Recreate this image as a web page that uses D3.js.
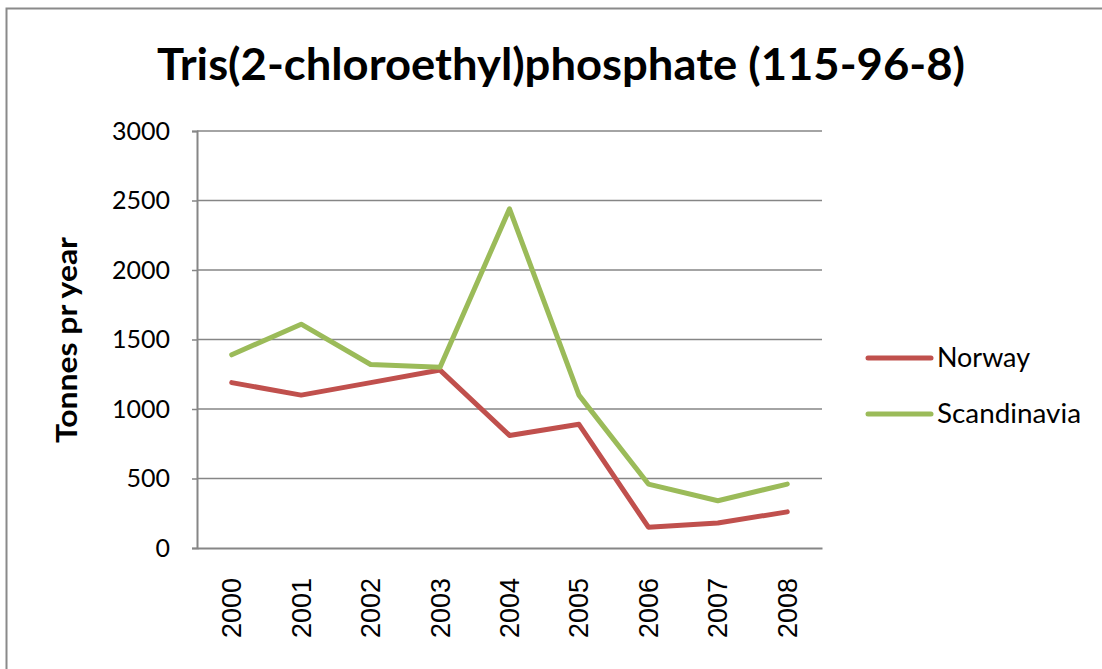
<!DOCTYPE html>
<html>
<head>
<meta charset="utf-8">
<script src="https://cdn.jsdelivr.net/npm/d3@7"></script>
<style>
  body { margin: 0; background: #fff; }
  svg { display: block; }
</style>
</head>
<body>
<div id="chart"></div>
<script>
var years = ["2000", "2001", "2002", "2003", "2004", "2005", "2006", "2007", "2008"];
var norway = [1190, 1100, 1190, 1280, 810, 890, 150, 180, 260];
var scandinavia = [1390, 1610, 1320, 1300, 2440, 1100, 460, 340, 460];
var seriesNames = ["Norway", "Scandinavia"];
var seriesColors = ["#C0504D", "#9BBB59"];
var yTicks = [0, 500, 1000, 1500, 2000, 2500, 3000];

var svgWidth = 1102;
var svgHeight = 669;

// plot area
var margin = { top: 131, left: 197, right: 280, bottom: 121 };
var width = svgWidth - margin.left - margin.right;
var height = svgHeight - margin.top - margin.bottom;

var svg = d3.select("#chart").append("svg")
    .attr("width", svgWidth)
    .attr("height", svgHeight);

// outer chart border (only top and left visible)
svg.append("path")
    .attr("d", "M6.5,669 V8.5 H1102")
    .attr("fill", "none")
    .attr("stroke", "#8a8a8a")
    .attr("stroke-width", 2);

var font = "Lato, 'Open Sans', sans-serif";

svg.append("text")
    .attr("x", 561)
    .attr("y", 80)
    .attr("text-anchor", "middle")
    .attr("font-family", font)
    .attr("font-weight", "bold")
    .attr("font-size", 43)
    .attr("textLength", 808)
    .attr("lengthAdjust", "spacingAndGlyphs")
    .text("Tris(2-chloroethyl)phosphate  (115-96-8)");

var chartGroup = svg.append("g")
    .attr("transform", `translate(${margin.left}, ${margin.top})`);

var xScale = d3.scaleBand()
    .domain(years)
    .range([0, width]);

var yScale = d3.scaleLinear()
    .domain([0, 3000])
    .range([height, 0]);

// gridlines
chartGroup.append("g")
    .selectAll("line")
    .data(yTicks.slice(1))
    .enter()
    .append("line")
    .attr("x1", 0)
    .attr("x2", width)
    .attr("y1", d => yScale(d))
    .attr("y2", d => yScale(d))
    .attr("stroke", "#868686")
    .attr("stroke-width", 1.5);

// y axis
var yAxis = chartGroup.append("g")
    .call(d3.axisLeft(yScale).tickValues(yTicks).tickFormat(d3.format("d")).tickSize(5).tickPadding(22));
yAxis.select(".domain").attr("stroke", "#868686").attr("stroke-width", 2);
yAxis.selectAll(".tick line").attr("stroke", "#868686").attr("stroke-width", 1.5);
yAxis.selectAll("text")
    .attr("font-family", font)
    .attr("font-size", 25)
    .attr("fill", "#000");

// x axis
var xAxis = chartGroup.append("g")
    .attr("transform", `translate(0, ${height})`)
    .call(d3.axisBottom(xScale).tickSize(0).tickPadding(0));
xAxis.select(".domain").attr("stroke", "#868686").attr("stroke-width", 2);
xAxis.selectAll("text")
    .attr("font-family", "'Liberation Sans', Arial, sans-serif")
    .attr("font-size", 27)
    .attr("fill", "#000")
    .attr("text-anchor", "end")
    .attr("transform", "rotate(-90)")
    .attr("x", -30)
    .attr("y", 0)
    .attr("dy", "0.35em");

// lines
var line = d3.line()
    .x((d, i) => xScale(years[i]) + xScale.bandwidth() / 2)
    .y(d => yScale(d));

[norway, scandinavia].forEach(function(values, i) {
    chartGroup.append("path")
        .datum(values)
        .attr("fill", "none")
        .attr("stroke", seriesColors[i])
        .attr("stroke-width", 5)
        .attr("stroke-linejoin", "round")
        .attr("stroke-linecap", "round")
        .attr("d", line);
});

// y axis label
svg.append("text")
    .attr("transform", "translate(77, 340) rotate(-90)")
    .attr("text-anchor", "middle")
    .attr("font-family", font)
    .attr("font-weight", "bold")
    .attr("font-size", 29)
    .attr("textLength", 206)
    .attr("lengthAdjust", "spacingAndGlyphs")
    .text("Tonnes pr year");

// legend
var legendWidths = [93, 144];
var legend = svg.append("g")
    .selectAll("g")
    .data(seriesNames)
    .enter()
    .append("g")
    .attr("transform", (d, i) => `translate(868, ${358 + i * 56})`);

legend.append("line")
    .attr("x1", 0)
    .attr("x2", 63)
    .attr("stroke", (d, i) => seriesColors[i])
    .attr("stroke-width", 5)
    .attr("stroke-linecap", "round");

legend.append("text")
    .attr("x", 69)
    .attr("dy", "0.35em")
    .attr("font-family", font)
    .attr("font-size", 26)
    .attr("textLength", (d, i) => legendWidths[i])
    .attr("lengthAdjust", "spacingAndGlyphs")
    .text(d => d);
</script>
</body>
</html>
